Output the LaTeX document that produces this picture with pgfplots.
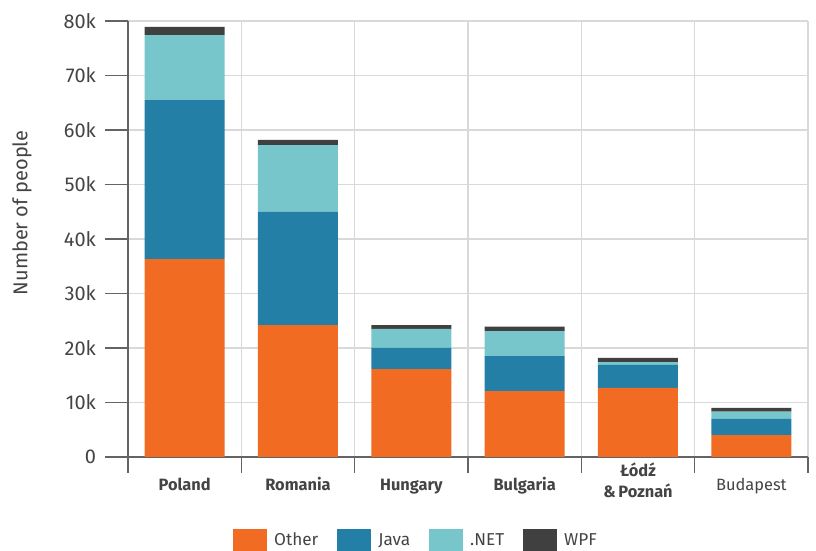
\documentclass[border=0pt]{standalone}
\usepackage{fontspec}
\setmainfont{Fira Sans}
\usepackage{pgfplots}
\pgfplotsset{compat=1.18}
\definecolor{cOther}{RGB}{242,107,35}
\definecolor{cJava}{RGB}{35,127,166}
\definecolor{cNET}{RGB}{119,198,204}
\definecolor{cWPF}{RGB}{64,64,64}
\definecolor{gridc}{RGB}{217,217,217}
\definecolor{axc}{RGB}{100,100,100}
\definecolor{txt}{RGB}{68,68,68}
\begin{document}
\begin{tikzpicture}
\begin{axis}[
  name=ax,
  scale only axis,
  width=340pt, height=218pt,
  ybar stacked, bar width=40pt,
  xmin=-0.5, xmax=5.5, ymin=0, ymax=80000,
  xtick={0,1,2,3,4,5},
  xticklabels={{\bfseries Poland},{\bfseries Romania},{\bfseries Hungary},{\bfseries Bulgaria},{\raisebox{-3.5pt}{\bfseries\begin{tabular}[b]{@{}c@{}}Łódź\\\&\,Poznań\end{tabular}}},{Budapest}},
  minor xtick={-0.5,0.5,1.5,2.5,3.5,4.5,5.5},
  xmajorgrids=false, xminorgrids=true, ymajorgrids=true,
  grid style={gridc, line width=0.75pt},
  minor grid style={gridc, line width=0.75pt},
  ytick={0,10000,20000,30000,40000,50000,60000,70000,80000},
  yticklabels={0,10k,20k,30k,40k,50k,60k,70k,80k},
  scaled y ticks=false,
  axis x line*=bottom, axis y line*=left,
  axis line style={axc, line width=0.75pt},
  tick align=outside,
  tick style={axc, line width=0.75pt},
  major x tick style={draw=none},
  minor tick length=8pt,
  major tick length=11.5pt,
  yticklabel style={font=\fontsize{10}{12}\selectfont, text=txt, xshift=-1pt},
  xticklabel style={font=\fontsize{8.2}{10.8}\selectfont, text=txt, anchor=base, yshift=-5.5pt},
  ylabel={Number of people},
  ylabel style={font=\fontsize{10}{12}\selectfont, text=txt, at={(axis description cs:-0.156,0.56)}, anchor=center},
  legend columns=4,
  legend style={at={(axis description cs:0.425,0)}, anchor=center, yshift=-42pt, draw=none, fill=none,
    font=\fontsize{8.6}{11}\selectfont, text=txt,
    /tikz/every odd column/.append style={column sep=1.5pt},
    /tikz/every even column/.append style={column sep=7.5pt}},
  legend image code/.code={\fill[#1] (0pt,-5.75pt) rectangle (17pt,5.75pt);},
  every axis plot/.append style={draw=none},
]
\addplot[fill=cOther] coordinates {(0,36300) (1,24200) (2,16100) (3,12100) (4,12700) (5,4000)};
\addplot[fill=cJava] coordinates {(0,29200) (1,20800) (2,3900) (3,6400) (4,4200) (5,3000)};
\addplot[fill=cNET] coordinates {(0,11900) (1,12200) (2,3500) (3,4600) (4,500) (5,1300)};
\addplot[fill=cWPF] coordinates {(0,1500) (1,1000) (2,700) (3,800) (4,800) (5,700)};
\legend{Other,Java,.NET,WPF}
\end{axis}
\pgfresetboundingbox
\path ([xshift=-64pt,yshift=-47pt]ax.south west) rectangle ([xshift=4pt,yshift=10.5pt]ax.north east);
\end{tikzpicture}
\end{document}
